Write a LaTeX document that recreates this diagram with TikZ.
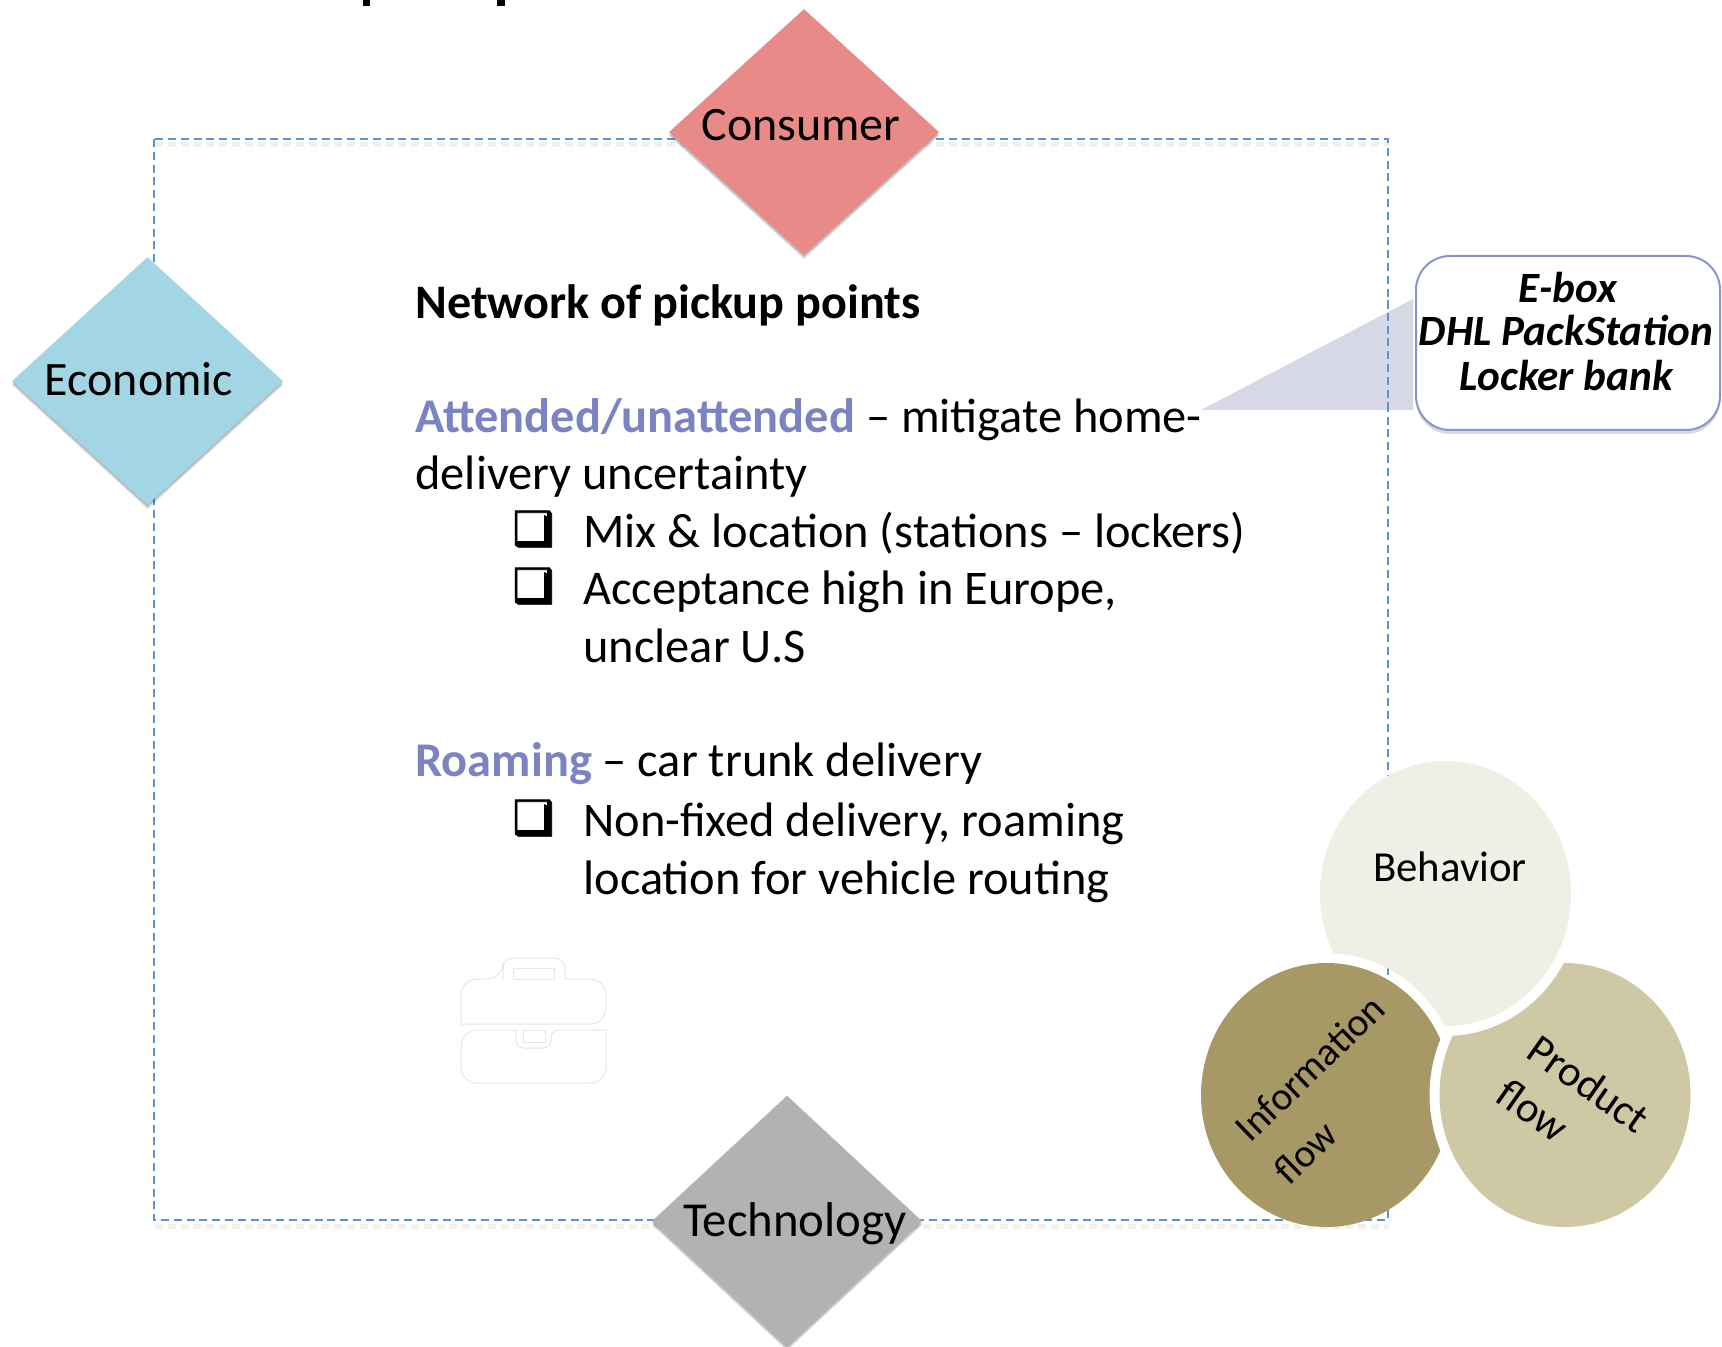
\documentclass[tikz,border=0pt]{standalone}
\usepackage{fontspec}
\setmainfont{Carlito}
\newfontfamily\symfont[FakeBold=1.6]{DejaVu Sans}
\usetikzlibrary{shapes.geometric,shadows}
\definecolor{dashblue}{HTML}{5B93D3}
\definecolor{accent}{HTML}{7B83C3}
\definecolor{cons}{HTML}{E88A87}
\definecolor{econ}{HTML}{A3D6E5}
\definecolor{tech}{HTML}{B2B2B2}
\definecolor{calloutline}{HTML}{8A94CC}
\definecolor{wedge}{HTML}{D6D8E5}
\definecolor{behav}{HTML}{EFEFE6}
\definecolor{infoc}{HTML}{A69966}
\definecolor{prodc}{HTML}{CFC8A4}
\definecolor{caseline}{HTML}{E6E6E6}
\tikzset{
  x=0.5pt,y=-0.5pt,
  bodytext/.style={anchor=base west,inner sep=0pt,font=\fontsize{24.2}{28}\selectfont},
  boldtext/.style={bodytext,font=\fontsize{24.1}{28}\selectfont\bfseries},
  bullettext/.style={anchor=base west,inner sep=0pt,font=\fontsize{23.5}{28}\selectfont\symfont\bfseries},
  gem/.style={shape=diamond,aspect=1,inner sep=0pt,draw=none,
    drop shadow={shadow xshift=0pt,shadow yshift=-1pt,opacity=.15,fill=black},
    drop shadow={shadow xshift=0pt,shadow yshift=-2pt,opacity=.15,fill=black}},
  gemtext/.style={anchor=base,inner sep=0pt,font=\fontsize{24}{28}\selectfont},
  calltext/.style={anchor=base,inner sep=0pt,font=\fontsize{21.6}{26}\selectfont\bfseries\itshape},
  circtext/.style={anchor=center,inner sep=0pt,font=\fontsize{21.4}{26}\selectfont},
  infotext/.style={circtext,font=\fontsize{19.8}{24}\selectfont},
  frameline/.style={line width=0.8pt,dash pattern=on 4pt off 2.4pt},
  caseedge/.style={draw=caseline,line width=0.5pt,line join=round},
}
\newcommand{\cbh}{(1445.5,893.5) ellipse [x radius=125.5,y radius=132.5]}
\newcommand{\cinf}{(1326.5,1095) ellipse [x radius=125.5,y radius=132]}
\newcommand{\cpr}{(1565,1095) ellipse [x radius=125.5,y radius=132]}
\newcommand{\cbhx}{(1445.5,893.5) ellipse [x radius=135.5,y radius=142.5]}
\newcommand{\cinfx}{(1326.5,1095) ellipse [x radius=135.5,y radius=142]}
\newcommand{\cprx}{(1565,1095) ellipse [x radius=135.5,y radius=142]}
\newcommand{\boxshade}[1]{\fill[black] (544,#1+2) -- (550,#1+5) -- (550,#1+34) -- (519,#1+34) -- (515,#1+28) -- (544,#1+28) -- cycle;}
\begin{document}
\begin{tikzpicture}
\useasboundingbox (0,0) rectangle (1722,1347);
\fill[white] (0,0) rectangle (1722,1347);
% title remnants
\fill[black] (363,0) rectangle (370,6.5);
\fill[black] (497,0) rectangle (505,6.5);
% dashed frame with soft shadow
\draw[black,opacity=.06,frameline,line width=2.5pt] (155,145) -- (1389,145);
\draw[black,opacity=.06,frameline,line width=2.5pt] (155,1226) -- (1389,1226);
\draw[dashblue,frameline] (154,139) rectangle (1388,1220);
% callout
\fill[wedge] (1201,410) -- (1413,299) -- (1413,410) -- cycle;
\draw[dashblue,frameline] (1388,300) -- (1388,410);
\node[draw=calloutline,fill=white,line width=1pt,rounded corners=17pt,minimum width=152pt,minimum height=87pt,inner sep=0pt,
  drop shadow={shadow xshift=0pt,shadow yshift=-2pt,opacity=.15,fill=black}] (callout) at (1568,343) {};
\node[calltext] (c1) at (1568,303) {E-box};
\node[calltext] (c2) at (1566,346) {DHL PackStation};
\node[calltext] (c3) at (1566,391) {Locker bank};
% diamonds
\node[gem,fill=cons,minimum width=135pt,minimum height=123pt] (consumer) at (804,132) {};
\node[gem,fill=econ,minimum width=135.5pt,minimum height=124pt] (economic) at (147.5,381) {};
\node[gem,fill=tech,minimum width=135pt,minimum height=125.5pt] (technology) at (787,1221) {};
\node[gemtext] (consumerlabel) at (801,141) {Consumer};
\node[gemtext] (economiclabel) at (139,396) {Economic};
\node[gemtext,font=\fontsize{24.4}{28}\selectfont] (technologylabel) at (795,1236) {Technology};
% body text
\node[boldtext] (head) at (415,319) {Network of pickup points};
\node[bodytext] (l1) at (415,433) {\textbf{\textcolor{accent}{Attended/unattended}} – mitigate home-};
\node[bodytext] (l2) at (415,489) {delivery uncertainty};
\node[bullettext] (b1) at (512,545) {❑};
\boxshade{513}
\node[bodytext] (l3) at (583,547) {Mix \& location (stations – lockers)};
\node[bullettext] (b2) at (512,602) {❑};
\boxshade{570}
\node[bodytext] (l4) at (583,604) {Acceptance high in Europe,};
\node[bodytext] (l5) at (583,662) {unclear U.S};
\node[bodytext] (l6) at (415,776) {\textbf{\textcolor{accent}{Roaming}} – car trunk delivery};
\node[bullettext] (b3) at (512,834) {❑};
\boxshade{802}
\node[bodytext] (l7) at (583,836) {Non-fixed delivery, roaming};
\node[bodytext] (l8) at (583,894) {location for vehicle routing};
% briefcase
\draw[caseedge,rounded corners=8pt] (461,1024) -- (461,979) -- (503,979) [rounded corners=0pt] -- (503,979) [rounded corners=5pt] -- (503,958) -- (565,958) -- (565,979) [rounded corners=0pt] -- (565,979) [rounded corners=8pt] -- (606,979) -- (606,1024) [rounded corners=0pt] -- cycle;
\draw[caseedge] (513,968) rectangle (554,979);
\draw[caseedge,rounded corners=4pt] (461,1030) [rounded corners=0pt] -- (516,1030) [rounded corners=4pt] -- (516,1048) -- (551,1048) -- (551,1030) [rounded corners=0pt] -- (606,1030) [rounded corners=8pt] -- (606,1083) -- (461,1083) -- cycle;
\draw[caseedge] (523,1030) rectangle (545,1042);
% circles cut by their neighbours
\begin{scope}[even odd rule]
  \clip (0,0) rectangle (1722,1347) \cinfx;
  \fill[behav] \cbh;
\end{scope}
\begin{scope}[even odd rule]
  \clip (0,0) rectangle (1722,1347) \cprx;
  \fill[infoc] \cinf;
\end{scope}
\begin{scope}[even odd rule]
  \clip (0,0) rectangle (1722,1347) \cbhx;
  \fill[prodc] \cpr;
\end{scope}
\node[circtext] (behavior) at (1450,867) {Behavior};
\node[infotext,rotate=44] (info1) at (1310,1068) {Information};
\node[infotext,rotate=44] (info2) at (1305,1152) {flow};
\node[circtext,rotate=-35] (prod1) at (1589,1084) {Product};
\node[circtext,rotate=-35] (prod2) at (1533,1110) {flow};
\end{tikzpicture}
\end{document}
